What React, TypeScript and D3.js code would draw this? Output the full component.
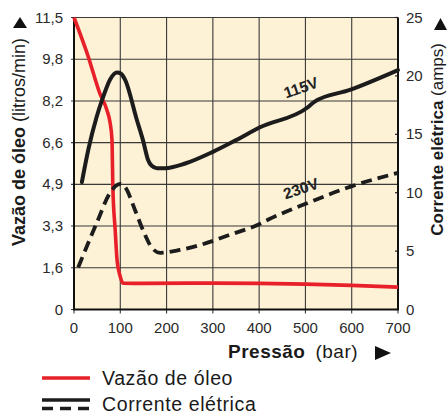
import React from 'react';
import * as d3 from 'd3';

// Pressão (bar) / Vazão de óleo (litros/min)
const oilPressure = [0, 30, 56, 71, 78, 82, 84, 89, 93, 99, 106, 150, 300, 500, 600, 700];
const oilFlow = [11.5, 10.0, 8.5, 7.86, 7.35, 6.7, 4.8, 3.13, 1.95, 1.36, 1.04, 1.03, 1.04, 1.0, 0.95, 0.88];

// Corrente 115V (amps)
const p115 = [17, 31, 49, 63, 78, 93, 101, 110, 136, 149, 160, 168, 179, 197, 240, 300, 350, 402, 503, 520, 596, 700];
const a115 = [10.9, 13.7, 16.5, 18.2, 19.7, 20.3, 20.2, 19.7, 16.2, 14.5, 12.8, 12.3, 12.1, 12.1, 12.5, 13.5, 14.5, 15.6, 17.25, 17.8, 18.8, 20.5];

// Corrente 230V (amps)
const p230 = [9, 49, 78, 95, 101, 110, 132, 149, 168, 186, 229, 287, 337, 400, 420, 510, 596, 700];
const a230 = [3.6, 7.4, 10.0, 10.7, 10.75, 10.5, 8.5, 6.8, 5.3, 4.85, 5.1, 5.7, 6.4, 7.3, 7.7, 9.2, 10.5, 11.7];

const leftTickLabels = ['0', '1,6', '3,3', '4,9', '6,6', '8,2', '9,8', '11,5'];
const rightTicks = [0, 5, 10, 15, 20, 25];
const xTicks = [0, 100, 200, 300, 400, 500, 600, 700];

const W = 448;
const H = 417;
const FONT = '"Liberation Sans", Arial, Helvetica, sans-serif';

export default function App() {
  const x = d3.scaleLinear().domain([0, 700]).range([74, 398]);
  const yL = d3.scaleLinear().domain([0, 11.5]).range([309.5, 17.5]);
  const yR = d3.scaleLinear().domain([0, 25]).range([309.5, 17.5]);
  const leftStep = 11.5 / (leftTickLabels.length - 1);

  const lineL = d3.line<[number, number]>()
    .x(d => x(d[0]))
    .y(d => yL(d[1]))
    .curve(d3.curveMonotoneX);
  const lineR = d3.line<[number, number]>()
    .x(d => x(d[0]))
    .y(d => yR(d[1]))
    .curve(d3.curveMonotoneX);

  const oilPath = lineL(oilPressure.map((p, i) => [p, oilFlow[i]])) || '';
  const path115 = lineR(p115.map((p, i) => [p, a115[i]])) || '';
  const path230 = lineR(p230.map((p, i) => [p, a230[i]])) || '';

  const [x0, x1] = x.range();
  const [yB, yT] = yL.range();

  return (
    <svg width={W} height={H} style={{ position: 'absolute', left: 0, top: 0 }} fontFamily={FONT}>
      <rect x={x0} y={yT} width={x1 - x0} height={yB - yT} fill="#fdf1d6" />

      {/* grid */}
      {leftTickLabels.map((_, i) => (
        <line key={'h' + i} x1={x0 - 3} x2={x1} y1={yL(i * leftStep)} y2={yL(i * leftStep)} stroke="#3a3a3a" strokeWidth={1.1} />
      ))}
      {xTicks.map(t => (
        <line key={'v' + t} x1={x(t)} x2={x(t)} y1={yT} y2={yB + 4} stroke="#3a3a3a" strokeWidth={1.1} />
      ))}
      {rightTicks.map(t => (
        <line key={'r' + t} x1={x1 - 3} x2={x1} y1={yR(t)} y2={yR(t)} stroke="#222" strokeWidth={1.2} />
      ))}

      {/* frame */}
      <line x1={x0} x2={x0} y1={yT} y2={yB} stroke="#111" strokeWidth={2} />
      <line x1={x0 - 1} x2={x1 + 1} y1={yB} y2={yB} stroke="#111" strokeWidth={2} />
      <line x1={x1} x2={x1} y1={yT} y2={yB} stroke="#111" strokeWidth={2} />

      {/* series */}
      <path d={oilPath} fill="none" stroke="#e8202a" strokeWidth={3.6} strokeLinejoin="round" />
      <path d={path115} fill="none" stroke="#1c1c1c" strokeWidth={4} strokeLinejoin="round" strokeLinecap="round" />
      <path d={path230} fill="none" stroke="#1c1c1c" strokeWidth={3.8} strokeDasharray="11,6" />

      <text x={301} y={93} transform="rotate(-19 301 88)" textAnchor="middle" fontSize={15.5} fontWeight="bold" fill="#222">115V</text>
      <text x={301} y={194} transform="rotate(-19 301 189)" textAnchor="middle" fontSize={15.5} fontWeight="bold" fill="#222">230V</text>

      {/* left ticks */}
      {leftTickLabels.map((l, i) => (
        <text key={'lt' + i} x={63} y={yL(i * leftStep) + 5} textAnchor="end" fontSize={15} fill="#2a2a2a">{l}</text>
      ))}
      {/* right ticks */}
      {rightTicks.map(t => (
        <text key={'rt' + t} x={406} y={yR(t) + 5} textAnchor="start" fontSize={15} fill="#2a2a2a">{t}</text>
      ))}
      {/* x ticks */}
      {xTicks.map(t => (
        <text key={'xt' + t} x={x(t)} y={333} textAnchor="middle" fontSize={15} fill="#2a2a2a">{t}</text>
      ))}

      {/* left axis title */}
      <path d="M13,28 L27,28 L20,17 Z" fill="#111" />
      <text transform="translate(25,38) rotate(-90)" textAnchor="end" fontSize={18} fill="#1a1a1a">
        <tspan fontWeight="bold">Vazão de óleo</tspan>
        <tspan> (litros/min)</tspan>
      </text>

      {/* right axis title */}
      <path d="M434,30 L447,30 L440.5,18 Z" fill="#111" />
      <text transform="translate(443,43) rotate(-90)" textAnchor="end" fontSize={17} fill="#1a1a1a">
        <tspan fontWeight="bold">Corrente elétrica</tspan>
        <tspan> (amps)</tspan>
      </text>

      {/* x axis title */}
      <text x={228} y={358} fontSize={19} fill="#1a1a1a" letterSpacing={0.5}>
        <tspan fontWeight="bold">Pressão</tspan>
        <tspan dx={10}>(bar)</tspan>
      </text>
      <path d="M375,346 L375,360 L391,353 Z" fill="#111" />

      {/* legend */}
      <line x1={42} x2={90} y1={378} y2={378} stroke="#e8202a" strokeWidth={3.6} />
      <text x={102} y={385} fontSize={19.5} fill="#1a1a1a" letterSpacing={0.6}>Vazão de óleo</text>
      <line x1={42} x2={90} y1={400} y2={400} stroke="#1c1c1c" strokeWidth={3.6} />
      <line x1={42} x2={90} y1={408.5} y2={408.5} stroke="#1c1c1c" strokeWidth={3.6} strokeDasharray="11,7" />
      <text x={102} y={411} fontSize={19.5} fill="#1a1a1a" letterSpacing={0.6}>Corrente elétrica</text>
    </svg>
  );
}
